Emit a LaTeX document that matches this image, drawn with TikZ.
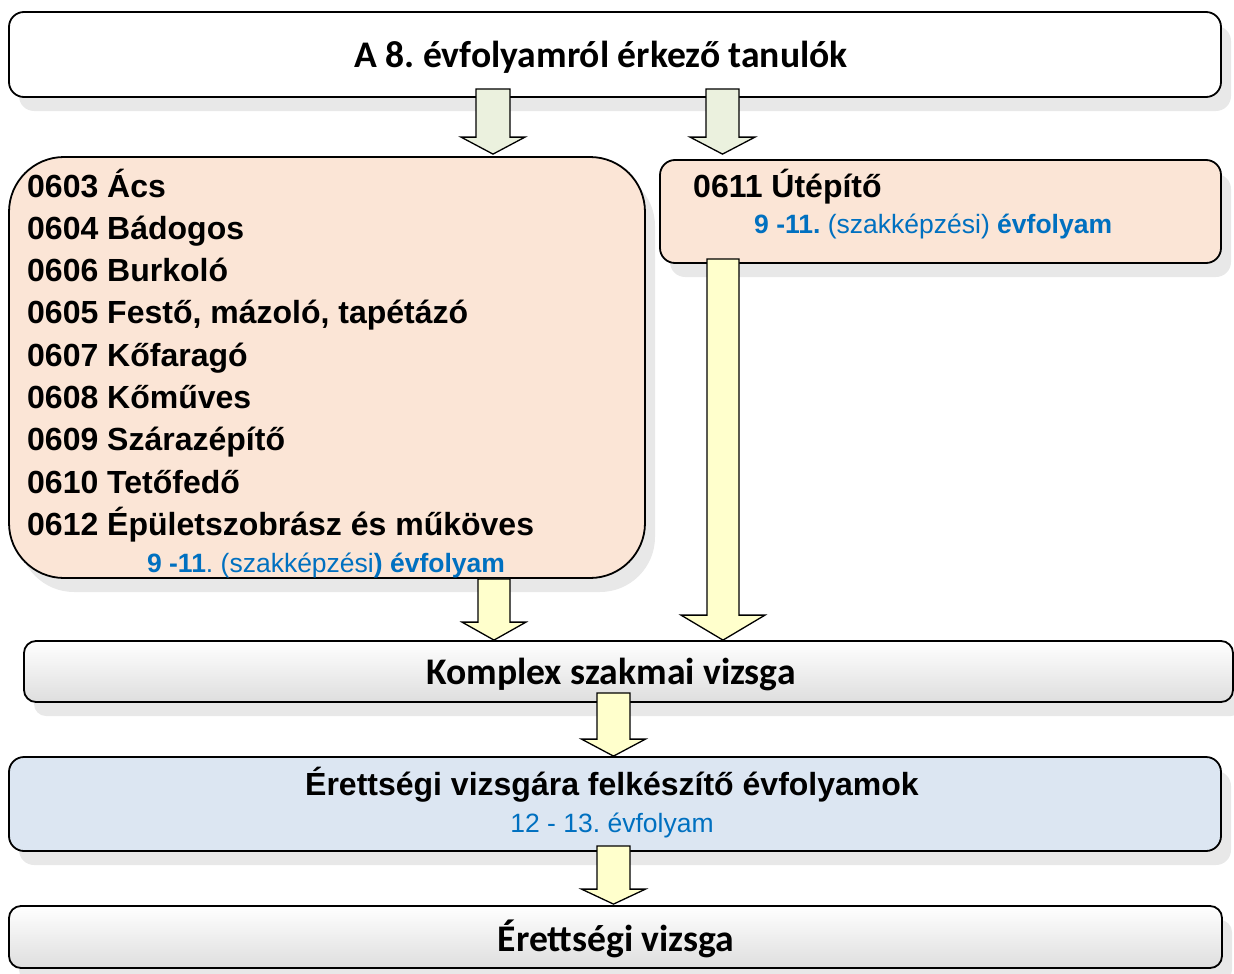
\documentclass[tikz,border=0pt]{standalone}
\usepackage{fontspec}
\setmainfont{Liberation Sans}
\newfontfamily\calfont{Carlito}
\usetikzlibrary{calc,shadows,positioning}
\definecolor{peach}{RGB}{251,229,214}
\definecolor{paleblue}{RGB}{220,230,242}
\definecolor{palegreen}{RGB}{235,241,222}
\definecolor{paleyellow}{RGB}{255,255,204}
\definecolor{txtblue}{RGB}{0,112,192}
\definecolor{shade}{RGB}{232,232,232}
\frenchspacing
\tikzset{
    box/.style={draw, line width=1.8pt, rounded corners=15pt, inner sep=0pt,
        drop shadow={shadow xshift=10pt, shadow yshift=-14pt, fill=shade, opacity=1}},
    greybox/.style={box, top color=white, bottom color=black!13},
    titletxt/.style={inner sep=0pt, font=\calfont\bfseries\fontsize{37.6}{42}\selectfont},
    itemtxt/.style={inner sep=0pt, anchor=base west, font=\bfseries\fontsize{32}{36}\selectfont},
    yeartxt/.style={inner sep=0pt, text=txtblue, font=\fontsize{26.5}{30}\selectfont},
    garrow/.style={draw, line width=1.3pt, fill=palegreen},
    yarrow/.style={draw, line width=1.3pt, fill=paleyellow}
}
% block arrow: style, start, tip, x, shaft half width, head half width, head length
\newcommand{\blockarr}[7]{%
    \draw[#1] let \p1=(#2), \p2=(#3) in
        ({#4pt-#5pt},\y1) -- ({#4pt+#5pt},\y1) -- ({#4pt+#5pt},{\y2+#7pt})
        -- ({#4pt+#6pt},{\y2+#7pt}) -- ({#4pt},\y2) -- ({#4pt-#6pt},{\y2+#7pt})
        -- ({#4pt-#5pt},{\y2+#7pt}) -- cycle;
}
\begin{document}
\begin{tikzpicture}[x=1pt, y=-1pt]
    \useasboundingbox (0,0) rectangle (1234,974);
    % boxes
    \node[box, fill=white, minimum width=1212pt, minimum height=85pt] (top) at (615,54.5) {};
    \node[box, fill=peach, rounded corners=55pt, minimum width=636pt, minimum height=421pt] (lft) at (327,367.5) {};
    \node[box, fill=peach, minimum width=561pt, minimum height=103pt] (rgt) at (940.5,211.5) {};
    \node[greybox, rounded corners=12pt, minimum width=1209pt, minimum height=61pt] (kmp) at (628.5,671.5) {};
    \node[box, fill=paleblue, minimum width=1212pt, minimum height=94pt] (ert) at (615,804) {};
    \node[greybox, rounded corners=12pt, minimum width=1213pt, minimum height=62pt] (fin) at (615.5,937) {};

    % texts
    \node[titletxt] (toptxt) at (601,57) {A 8. évfolyamról érkező tanulók};
    \foreach \t [count=\i] in {0603 Ács, 0604 Bádogos, 0606 Burkoló,
        {0605 Festő, mázoló, tapétázó}, 0607 Kőfaragó, 0608 Kőműves,
        0609 Szárazépítő, 0610 Tetőfedő, 0612 Épületszobrász és műköves}
        \node[itemtxt] (item\i) at (27,{197+42.3*(\i-1)}) {\t};
    \node[yeartxt, anchor=base] (lftyear) at (326,572) {\textbf{9 -11}. (szakképzési\textbf{) évfolyam}};
    \node[itemtxt] (rgttxt) at (693,197) {0611 Útépítő};
    \node[yeartxt, anchor=base west] (rgtyear) at (754,233) {\textbf{9 -11.} (szakképzési) \textbf{évfolyam}};
    \node[titletxt] (kmptxt) at (611,674) {Komplex szakmai vizsga};
    \node[itemtxt, anchor=center] (erttxt) at (612,785) {Érettségi vizsgára felkészítő évfolyamok};
    \node[yeartxt] (ertyear) at (612,825) {12 - 13. évfolyam};
    \node[titletxt] (fintxt) at (616,939) {Érettségi vizsga};

    % arrows
    \blockarr{garrow}{$(top.south)+(0,-9)$}{$(lft.north)+(0,-2)$}{493}{17}{32}{17}
    \blockarr{garrow}{$(top.south)+(0,-9)$}{$(rgt.north)+(0,-5)$}{722.5}{16.5}{32.5}{17}
    \blockarr{yarrow}{lft.south}{kmp.north}{494}{16}{32}{18}
    \blockarr{yarrow}{$(rgt.south)+(0,-5)$}{kmp.north}{723}{16}{42}{25}
    \blockarr{yarrow}{$(kmp.south)+(0,-10)$}{ert.north}{613.5}{16.5}{32}{17}
    \blockarr{yarrow}{$(ert.south)+(0,-6)$}{$(fin.north)+(0,-1)$}{613.5}{16.5}{32}{15}
\end{tikzpicture}
\end{document}
